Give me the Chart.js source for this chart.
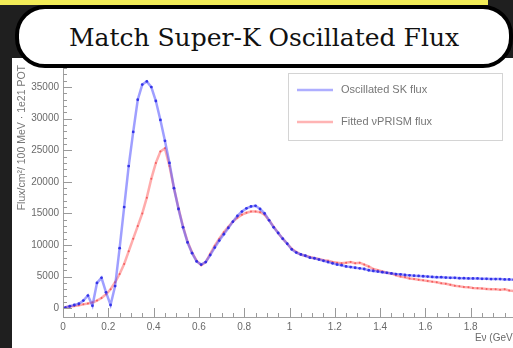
<!DOCTYPE html>
<html>
<head>
<meta charset="UTF-8">
<title>Match Super-K Oscillated Flux</title>
<script src="https://cdn.jsdelivr.net/npm/chart.js"></script>
<style>
    html, body { margin: 0; padding: 0; }
    body {
        width: 513px; height: 348px; overflow: hidden; position: relative;
        background-color: #1f1f1f; /* dark slide background */
        font-family: 'Liberation Sans', Arial, sans-serif;
    }
    .topbar {
        position: absolute; left: 0; top: 0; width: 488px; height: 5px;
        background-color: #f2ec58;
    }
    .panel {
        position: absolute; left: 12px; top: 58px; right: 0; bottom: 0;
        background-color: #ffffff;
    }
    #chart { position: absolute; left: 0; top: 0; z-index: 1; }
    .titlebox {
        position: absolute; left: 15px; top: 5px; width: 490px; height: 55px;
        background: #fff; border: 4px solid #000; border-radius: 30px;
        z-index: 2; text-align: center;
        font-family: 'DejaVu Serif', serif; font-size: 25px; line-height: 57px; color: #111;
    }
</style>
</head>
<body>
<div class="topbar"></div>
<div class="panel"></div>
<canvas id="chart" width="520" height="348"></canvas>
<div class="titlebox">Match Super-K Oscillated Flux</div>

<script>
// bin centres (GeV)
var energies = [
    0.01, 0.03, 0.05, 0.07, 0.09, 0.11, 0.13, 0.15, 0.17, 0.19,
    0.21, 0.23, 0.25, 0.27, 0.29, 0.31, 0.33, 0.35, 0.37, 0.39,
    0.41, 0.43, 0.45, 0.47, 0.49, 0.51, 0.53, 0.55, 0.57, 0.59,
    0.61, 0.63, 0.65, 0.67, 0.69, 0.71, 0.73, 0.75, 0.77, 0.79,
    0.81, 0.83, 0.85, 0.87, 0.89, 0.91, 0.93, 0.95, 0.97, 0.99,
    1.01, 1.03, 1.05, 1.07, 1.09, 1.11, 1.13, 1.15, 1.17, 1.19,
    1.21, 1.23, 1.25, 1.27, 1.29, 1.31, 1.33, 1.35, 1.37, 1.39,
    1.41, 1.43, 1.45, 1.47, 1.49, 1.51, 1.53, 1.55, 1.57, 1.59,
    1.61, 1.63, 1.65, 1.67, 1.69, 1.71, 1.73, 1.75, 1.77, 1.79,
    1.81, 1.83, 1.85, 1.87, 1.89, 1.91, 1.93, 1.95, 1.97, 1.99
];

var oscillatedSK = [
    100, 300, 500, 700, 1200, 2000, 400, 4000, 4800, 2500,
    500, 3500, 9500, 16000, 22500, 27900, 33000, 35400, 35900, 35000,
    32800, 29800, 26500, 23000, 19000, 15700, 12800, 10400, 8700, 7400,
    6900, 7300, 8400, 9600, 10700, 11700, 12700, 13700, 14600, 15300,
    15800, 16100, 16200, 15700, 15000, 13900, 12800, 11900, 11000, 10200,
    9300, 8800, 8500, 8300, 8000, 7900, 7700, 7500, 7300, 7100,
    6900, 6800, 6600, 6500, 6400, 6300, 6200, 6000, 5900, 5800,
    5700, 5600, 5500, 5400, 5350, 5250, 5200, 5150, 5100, 5050,
    5000, 4950, 4900, 4900, 4850, 4800, 4800, 4750, 4750, 4700,
    4700, 4700, 4650, 4650, 4600, 4600, 4600, 4550, 4550, 4500
];

var fittedPRISM = [
    150, 250, 350, 450, 600, 750, 900, 1200, 1600, 2200,
    3000, 4100, 5400, 7000, 9000, 11000, 13000, 15000, 17500, 20500,
    23000, 24800, 25300, 22500, 19000, 15800, 12900, 10500, 8800, 7500,
    6800, 7300, 8600, 9900, 11000, 12000, 12900, 13700, 14300, 14800,
    15100, 15300, 15300, 15200, 14800, 13900, 12900, 11900, 11000, 10200,
    9400, 8900, 8500, 8300, 8100, 7900, 7800, 7600, 7500, 7300,
    7200, 7100, 7200, 7300, 7100, 7200, 6900, 6600, 6200, 6000,
    5800, 5600, 5500, 5200, 5000, 4900, 4700, 4600, 4500, 4400,
    4300, 4200, 4100, 3950, 3850, 3700, 3550, 3450, 3350, 3300,
    3200, 3150, 3100, 3050, 3000, 3000, 2900, 3000, 2800, 2700
];

var seriesLabels = ['Oscillated SK flux', 'Fitted \u03BDPRISM flux'];
var yTitle = 'Flux/cm\u00B2/ 100 MeV \u00B7 1e21 POT';
var xTitle = 'E\u03BD (GeV)';

function toPoints(xs, ys) {
    var pts = [];
    for (var i = 0; i < xs.length; i++) pts.push({ x: xs[i], y: ys[i] });
    return pts;
}

// ROOT style inward ticks (major + minor)
var rootTicks = {
    id: 'rootTicks',
    afterDraw: function (chart) {
        var ctx = chart.ctx, a = chart.chartArea;
        var xs = chart.scales.x, ys = chart.scales.y;
        ctx.save();
        ctx.strokeStyle = '#9a9a9a';
        ctx.lineWidth = 1;
        ctx.beginPath();
        for (var v = 0; v <= 38000; v += 1000) {
            var py = Math.round(ys.getPixelForValue(v)) + 0.5;
            if (py < a.top) break;
            var len = (v % 5000 === 0) ? 9 : 4;
            ctx.moveTo(a.left, py); ctx.lineTo(a.left + len, py);
        }
        for (var k = 0; k <= 40; k++) {
            var e = k * 0.05;
            var px = Math.round(xs.getPixelForValue(e)) + 0.5;
            var l2 = (k % 4 === 0) ? 9 : 4;
            ctx.moveTo(px, a.bottom); ctx.lineTo(px, a.bottom - l2);
        }
        ctx.stroke();
        ctx.restore();
    }
};

// ROOT style legend box
var rootLegend = {
    id: 'rootLegend',
    afterDraw: function (chart) {
        var ctx = chart.ctx;
        ctx.save();
        ctx.fillStyle = '#ffffff';
        ctx.fillRect(288, 73, 214, 67);
        ctx.strokeStyle = '#d4d4d4';
        ctx.lineWidth = 1;
        ctx.strokeRect(288.5, 73.5, 214, 67);
        var rows = [90, 122];
        chart.data.datasets.forEach(function (ds, i) {
            ctx.strokeStyle = ds.legendColor;
            ctx.lineWidth = 2.5;
            ctx.beginPath();
            ctx.moveTo(297, rows[i]); ctx.lineTo(333, rows[i]);
            ctx.stroke();
            ctx.fillStyle = '#777';
            ctx.font = '11px "Liberation Sans", Arial, sans-serif';
            ctx.textBaseline = 'middle';
            ctx.fillText(ds.label, 341, rows[i]);
        });
        ctx.restore();
    }
};

var ctx = document.getElementById('chart').getContext('2d');
var chart = new Chart(ctx, {
    type: 'line',
    data: {
        datasets: [{
            label: seriesLabels[0],
            data: toPoints(energies, oscillatedSK),
            borderColor: 'rgba(80, 80, 255, 0.55)',
            legendColor: 'rgba(120, 120, 255, 0.6)',
            borderWidth: 2.5,
            pointRadius: 1.4,
            pointBackgroundColor: 'rgba(40, 40, 230, 0.9)',
            pointBorderWidth: 0,
            fill: false
        }, {
            label: seriesLabels[1],
            data: toPoints(energies, fittedPRISM),
            borderColor: 'rgba(255, 90, 90, 0.5)',
            legendColor: 'rgba(255, 130, 130, 0.6)',
            borderWidth: 2.5,
            pointRadius: 1,
            pointBackgroundColor: 'rgba(240, 60, 60, 0.7)',
            pointBorderWidth: 0,
            fill: false
        }]
    },
    options: {
        responsive: false,
        animation: false,
        layout: { padding: { top: 65, left: 0, right: 0, bottom: 0 } },
        plugins: { legend: { display: false }, tooltip: { enabled: false } },
        scales: {
            x: {
                type: 'linear',
                min: 0,
                max: 2,
                afterFit: function (s) { s.height = 31; s.paddingRight = 0; s.paddingLeft = 0; },
                afterBuildTicks: function (s) {
                    var t = [];
                    for (var k = 0; k <= 10; k++) t.push({ value: Math.round(k * 2) / 10 });
                    s.ticks = t;
                },
                ticks: {
                    autoSkip: false,
                    maxRotation: 0,
                    padding: 4,
                    color: '#6a6a6a',
                    font: { size: 10, family: '"Liberation Sans", Arial, sans-serif' },
                    callback: function (v) { return String(Math.round(v * 10) / 10); }
                },
                grid: { display: false, drawTicks: false },
                border: { display: true, color: '#a0a0a0' },
                title: {
                    display: true, text: xTitle, align: 'end', color: '#6a6a6a',
                    font: { size: 10, family: '"Liberation Sans", Arial, sans-serif' },
                    padding: { top: 0, bottom: 4 }
                }
            },
            y: {
                min: -1400,
                max: 38500,
                afterFit: function (s) { s.width = 63; },
                afterBuildTicks: function (s) {
                    var t = [];
                    for (var v = 0; v <= 35000; v += 5000) t.push({ value: v });
                    s.ticks = t;
                },
                ticks: {
                    padding: 4,
                    color: '#6a6a6a',
                    font: { size: 10, family: '"Liberation Sans", Arial, sans-serif' },
                    callback: function (v) { return String(v); }
                },
                grid: { display: false, drawTicks: false },
                border: { display: true, color: '#a0a0a0' },
                title: {
                    display: true, text: yTitle, align: 'end', color: '#777',
                    font: { size: 10.5, family: '"Liberation Sans", Arial, sans-serif' },
                    padding: { top: 16, bottom: 0 }
                }
            }
        }
    },
    plugins: [rootTicks, rootLegend]
});
</script>
</body>
</html>
